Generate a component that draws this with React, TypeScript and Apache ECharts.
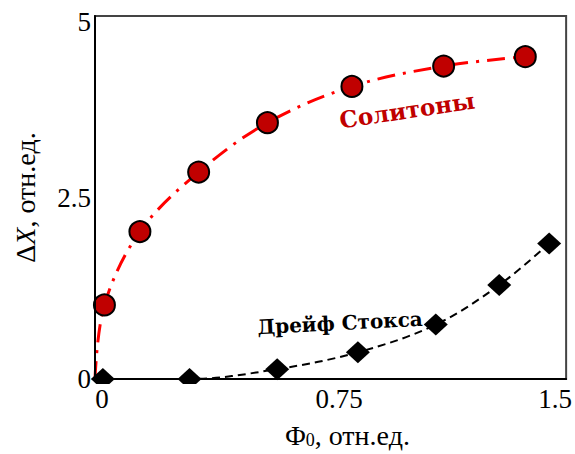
import React, { useEffect, useRef } from "react";
import * as echarts from "echarts";

// Solitons (red circles)
const phiSolitons = [0.03, 0.143, 0.33, 0.549, 0.818, 1.11, 1.37];
const dxSolitons = [1.02, 2.03, 2.85, 3.53, 4.03, 4.31, 4.44];
// Stokes drift (black diamonds)
const phiStokes = [0.025, 0.301, 0.58, 0.837, 1.085, 1.287, 1.446];
const dxStokes = [0, 0, 0.136, 0.368, 0.749, 1.294, 1.867];
// fitted curves start at the origin
const curveOrigin = [0, 0];
// tick labels
const xTicks = [0, 0.75, 1.5];
const xTickLabels = ["0", "0.75", "1.5"];
const yTicks = [0, 2.5, 5];
const yTickLabels = ["0", "2.5", "5"];

const serif = '"Liberation Serif", "Times New Roman", serif';
const deco = '"DejaVu Serif", serif';

export default function App() {
  const ref = useRef<HTMLDivElement>(null);
  useEffect(() => {
    if (!ref.current) return;
    const chart = echarts.init(ref.current, null, { renderer: "svg" });
    const solPts = phiSolitons.map((x, i) => [x, dxSolitons[i]]);
    const stkPts = phiStokes.map((x, i) => [x, dxStokes[i]]);
    const xRich = ["xa", "xb", "xc"];
    const yRich = ["ya", "yb", "yc"];
    chart.setOption({
      animation: false,
      backgroundColor: "#fff",
      grid: {
        left: 95,
        right: 7,
        top: 16,
        bottom: 71,
        show: true,
        borderColor: "#444",
        borderWidth: 2,
      },
      xAxis: {
        type: "value",
        min: 0,
        max: 1.5,
        interval: 0.75,
        z: 10,
        axisLine: { show: true, onZero: false, lineStyle: { color: "#000", width: 2 } },
        axisTick: { show: false },
        splitLine: { show: false },
        axisLabel: {
          margin: 6,
          color: "#000",
          fontFamily: serif,
          fontSize: 27,
          formatter: (v: number) => {
            const i = xTicks.indexOf(v);
            return i < 0 ? "" : `{${xRich[i]}|${xTickLabels[i]}}`;
          },
          rich: {
            xa: { fontFamily: serif, fontSize: 27, color: "#000", padding: [0, 0, 0, 14] },
            xb: { fontFamily: serif, fontSize: 27, color: "#000", padding: [0, 0, 0, 17] },
            xc: { fontFamily: serif, fontSize: 27, color: "#000", padding: [0, 22, 0, 0] },
          },
        },
        name: "{p|Φ}{s|0}{n|, отн.ед.}",
        nameLocation: "middle",
        nameGap: 42,
        nameTextStyle: {
          padding: [0, 0, 0, 34],
          rich: {
            p: { fontFamily: serif, fontSize: 28, color: "#000" },
            s: { fontFamily: serif, fontSize: 18, color: "#000", verticalAlign: "bottom", padding: [10, 0, 0, 0] },
            n: { fontFamily: serif, fontSize: 28, color: "#000" },
          },
        },
      },
      yAxis: {
        type: "value",
        min: 0,
        max: 5,
        interval: 2.5,
        z: 10,
        axisLine: { show: true, onZero: false, lineStyle: { color: "#000", width: 2 } },
        axisTick: { show: false },
        splitLine: { show: false },
        axisLabel: {
          margin: 4,
          color: "#000",
          fontFamily: serif,
          fontSize: 27,
          formatter: (v: number) => {
            const i = yTicks.indexOf(v);
            return i < 0 ? "" : `{${yRich[i]}|${yTickLabels[i]}}`;
          },
          rich: {
            ya: { fontFamily: serif, fontSize: 27, color: "#000" },
            yb: { fontFamily: serif, fontSize: 27, color: "#000" },
            yc: { fontFamily: serif, fontSize: 27, color: "#000", padding: [12, 0, 0, 0] },
          },
        },
        name: "{d|Δ}{i|X}{d|, отн.ед.}",
        nameLocation: "middle",
        nameGap: 56,
        nameRotate: 90,
        nameTextStyle: {
          rich: {
            d: { fontFamily: serif, fontSize: 28, color: "#000" },
            i: { fontFamily: serif, fontSize: 28, fontStyle: "italic", color: "#000" },
          },
        },
      },
      graphic: [
        {
          type: "rect",
          z: 5,
          shape: { x: 96, y: 384, width: 472, height: 11 },
          style: { fill: "#fff" },
          silent: true,
        },
        {
          type: "text",
          x: 407,
          y: 110,
          rotation: 0.15,
          z: 6,
          style: {
            text: "Солитоны",
            fontFamily: deco,
            fontWeight: "bold",
            fontSize: 23,
            fill: "#c00000",
            align: "center",
            verticalAlign: "middle",
          },
        },
        {
          type: "text",
          x: 340,
          y: 323,
          rotation: 0.05,
          z: 6,
          style: {
            text: "Дрейф Стокса",
            fontFamily: deco,
            fontWeight: "bold",
            fontSize: 20,
            fill: "#000",
            align: "center",
            verticalAlign: "middle",
          },
        },
      ],
      series: [
        {
          name: "Солитоны (кривая)",
          type: "line",
          data: [curveOrigin, ...solPts],
          smooth: 0.35,
          showSymbol: false,
          z: 2,
          lineStyle: { color: "#ff0000", width: 3, type: [18, 8, 3, 8] },
        },
        {
          name: "Дрейф Стокса (кривая)",
          type: "line",
          data: [curveOrigin, ...stkPts],
          smooth: 0.35,
          showSymbol: false,
          z: 2,
          lineStyle: { color: "#000", width: 2, type: [8, 5] },
        },
        {
          name: "Солитоны",
          type: "scatter",
          data: solPts,
          symbol: "circle",
          symbolSize: 21,
          z: 3,
          itemStyle: { color: "#c00000", borderColor: "#000", borderWidth: 2, opacity: 1 },
        },
        {
          name: "Дрейф Стокса",
          type: "scatter",
          data: stkPts,
          symbol: "diamond",
          symbolSize: [24, 22],
          z: 3,
          itemStyle: { color: "#000", opacity: 1 },
        },
      ],
    });
    return () => chart.dispose();
  }, []);
  return (
    <div
      ref={ref}
      style={{ position: "fixed", left: 0, top: 0, width: 575, height: 454 }}
    />
  );
}
